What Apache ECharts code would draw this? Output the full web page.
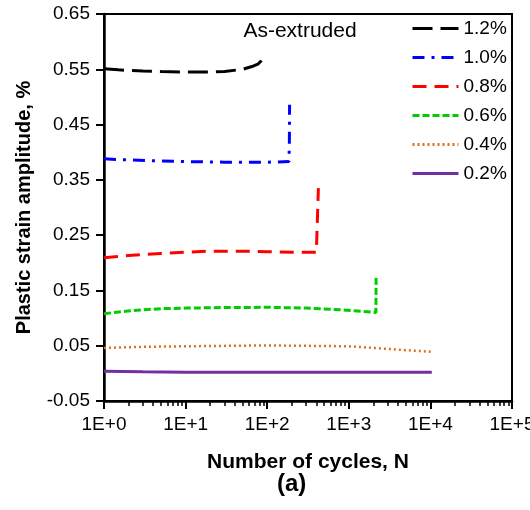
<!DOCTYPE html>
<html lang="en">
<head>
<meta charset="UTF-8">
<title>Plastic strain amplitude</title>
<script src="https://cdn.jsdelivr.net/npm/echarts@6/dist/echarts.min.js"></script>
<style>
  html, body { margin: 0; padding: 0; background: #fff; }
  #chart { width: 530px; height: 510px; }
</style>
</head>
<body>
<div id="chart"></div>
<script>
// [cycles N, plastic strain amplitude %]
var amp12 = [[1,0.551],[1.5,0.549],[2,0.548],[3,0.547],[5,0.546],[10,0.545],[20,0.545],[30,0.546],[50,0.550],[65,0.555],[78,0.560],[84,0.565],[88,0.570]];
var amp10 = [[1,0.388],[2,0.386],[5,0.384],[10,0.383],[30,0.382],[100,0.382],[185,0.383],[187,0.420],[188,0.486]];
var amp08 = [[1,0.209],[2,0.213],[5,0.217],[10,0.219],[20,0.221],[50,0.221],[100,0.220],[200,0.219],[400,0.219],[422,0.220],[424,0.335]];
var amp06 = [[1,0.108],[2,0.113],[5,0.117],[10,0.118],[30,0.119],[100,0.1195],[300,0.118],[800,0.115],[1500,0.112],[2150,0.110],[2160,0.178]];
var amp04 = [[1,0.046],[3,0.048],[10,0.049],[100,0.0505],[1000,0.049],[2000,0.046],[5000,0.042],[10400,0.039]];
var amp02 = [[1,0.004],[3,0.003],[10,0.002],[100,0.002],[1000,0.002],[10400,0.002]];

var names = ['1.2%', '1.0%', '0.8%', '0.6%', '0.4%', '0.2%'];
var colors = ['#000000', '#0000ff', '#ff0000', '#00cc00', '#d9731f', '#7030a0'];
var dashes = [[20, 8], [12, 7, 3, 7], [14, 8], [7, 3], [2, 3], 'solid'];
var widths = [3, 3, 3, 3, 2.5, 3];
var allData = [amp12, amp10, amp08, amp06, amp04, amp02];

// minor tick positions on the log axis (2..9 in each decade)
var minorTicks = [];
for (var k = 0; k < 5; k++) {
  for (var m = 2; m <= 9; m++) minorTicks.push(m * Math.pow(10, k));
}

var font = 'Liberation Sans, Arial, sans-serif';
var chart = echarts.init(document.getElementById('chart'));

var series = [];
for (var i = 0; i < names.length; i++) {
  series.push({
    name: names[i],
    type: 'line',
    data: allData[i],
    showSymbol: false,
    symbol: 'none',
    lineStyle: { color: colors[i], width: widths[i], type: dashes[i] },
    itemStyle: { color: colors[i] },
    animation: false
  });
}

var option = {
  animation: false,
  grid: {
    left: 104, right: 18, top: 14, bottom: 109,
    outerBoundsMode: 'none',
    containLabel: false,
    show: true, borderColor: '#000', borderWidth: 2
  },
  title: {
    text: 'As-extruded',
    left: 295, top: 16,
    textAlign: 'center',
    textStyle: { fontFamily: font, fontSize: 21, fontWeight: 'normal', color: '#000' }
  },
  legend: {
    orient: 'vertical',
    left: 406, top: 14,
    itemWidth: 46, itemHeight: 14, itemGap: 10,
    itemStyle: { opacity: 0 },
    lineStyle: { width: 3 },
    textStyle: { fontFamily: font, fontSize: 19, color: '#000' },
    data: names
  },
  xAxis: [{
    type: 'log',
    logBase: 10,
    min: 1, max: 100000,
    name: 'Number of cycles, N',
    nameLocation: 'middle',
    nameGap: 51,
    nameTextStyle: { fontFamily: font, fontSize: 21, fontWeight: 'bold', color: '#000' },
    axisLine: { show: true, onZero: false, lineStyle: { color: '#000', width: 2.5 } },
    axisTick: { show: true, inside: false, length: 8, lineStyle: { color: '#000', width: 2 } },
    axisLabel: {
      fontFamily: font, fontSize: 19, color: '#000', margin: 14,
      formatter: function (v) { return '1E+' + Math.round(Math.log10(v)); }
    },
    splitLine: { show: false }
  }, {
    type: 'log',
    logBase: 10,
    min: 1, max: 100000,
    position: 'bottom',
    axisLine: { show: false, onZero: false },
    axisTick: { show: true, inside: false, length: 5, customValues: minorTicks, lineStyle: { color: '#000', width: 1.5 } },
    axisLabel: { show: false },
    splitLine: { show: false }
  }],
  yAxis: {
    type: 'value',
    min: -0.05, max: 0.65, interval: 0.1,
    name: 'Plastic strain amplitude, %',
    nameLocation: 'middle',
    nameGap: 70,
    nameTextStyle: { fontFamily: font, fontSize: 20, fontWeight: 'bold', color: '#000' },
    axisLine: { show: true, onZero: false, lineStyle: { color: '#000', width: 2.5 } },
    axisTick: { show: true, inside: false, length: 8, lineStyle: { color: '#000', width: 2 } },
    axisLabel: {
      fontFamily: font, fontSize: 19, color: '#000', margin: 14,
      formatter: function (v) { return v.toFixed(2); }
    },
    splitLine: { show: false }
  },
  graphic: [{
    type: 'text',
    left: 277, top: 472,
    style: { text: '(a)', fontFamily: font, fontSize: 24, fontWeight: 'bold', fill: '#000' }
  }],
  series: series
};
chart.setOption(option);
</script>
</body>
</html>
